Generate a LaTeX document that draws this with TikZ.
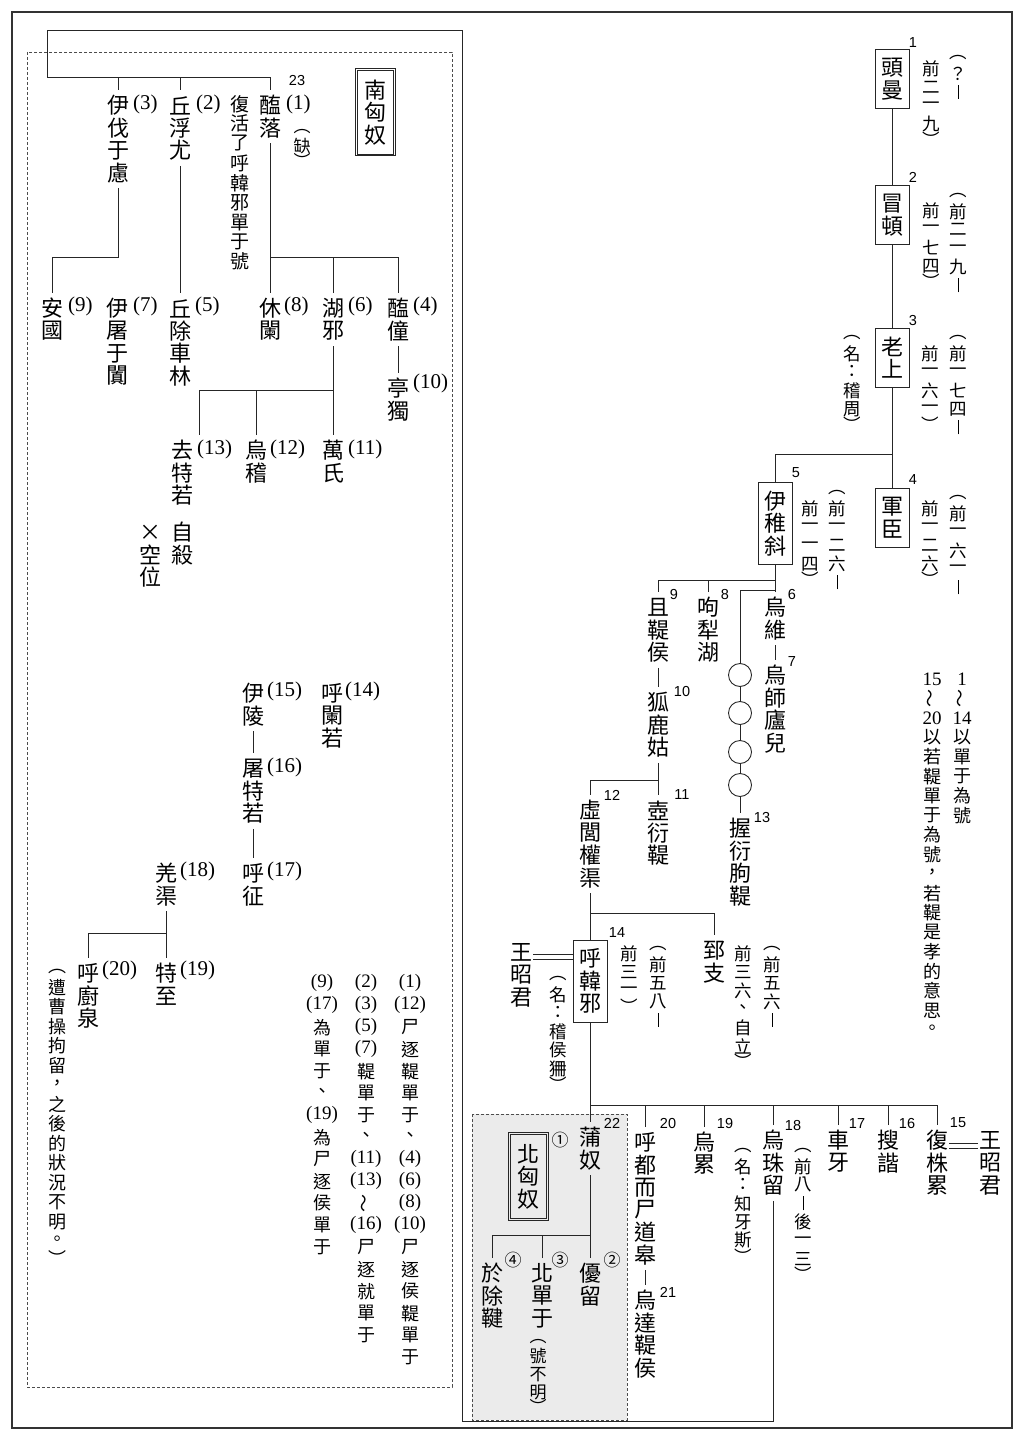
\documentclass[tikz,border=0pt]{standalone}
\usepackage{fontspec}
\usepackage{graphicx}
\usetikzlibrary{calc}
\setmainfont{Liberation Serif}
\setsansfont{Liberation Sans}
\newfontfamily\cjk{Noto Sans CJK TC}

% vertical text: one glyph (or group) per row
\newdimen\vtrow \newdimen\vtw
\vtrow=22pt \vtw=22pt
\def\vthf{.7}
\def\vtcell#1{\hbox to\vtw{\hss\vbox to\vtrow{\vss\hbox{#1}\vss}\hss}}
\def\vthalf#1{\hbox to\vtw{\hss\vbox to \vthf\vtrow{\vss\hbox{#1}\vss}\hss}}
\def\vop{︵}\def\vcl{︶}
\def\vtitem#1{\ifx\vop#1\vthalf{︵}\else\ifx\vcl#1\vthalf{︶}\else\vtcell{#1}\fi\fi}
\def\vtloop#1{\ifx\relax#1\else\vtitem{#1}\expandafter\vtloop\fi}
\newcommand\vt[1]{\vbox{\offinterlineskip\vtloop#1\relax}}
\newcommand\vdsh{\vrule width 0.7pt height 0.8em depth 0pt}
\newcommand\vtil{\rotatebox[origin=c]{90}{～}}
\newcommand\pn[1]{{\rmfamily\fontsize{19}{19}\selectfont(#1)}}
\newcommand\nm[1]{{\rmfamily\fontsize{19}{19}\selectfont#1}}

\newcommand\fname{\cjk\fontsize{22}{22}\selectfont\vtrow=22.5pt\relax\vtw=22pt\relax}
\newcommand\fdate{\cjk\fontsize{17.5}{17.5}\selectfont\vtrow=18.5pt\relax\vtw=17.5pt\relax}
\newcommand\fnote{\cjk\fontsize{18}{18}\selectfont\vtrow=19.5pt\relax\vtw=18pt\relax}
\newcommand\frules{\cjk\fontsize{18}{18}\selectfont\vtrow=22pt\relax\vtw=18pt\relax}
\newcommand\fmid{\cjk\fontsize{19}{19}\selectfont\vtrow=19.7pt\relax\vtw=19pt\relax}
\newcommand\fsmall{\cjk\fontsize{17}{17}\selectfont\vtrow=19pt\relax\vtw=17pt\relax\def\vthf{.55}}
\newcommand\fsmalltwo{\cjk\fontsize{17}{17}\selectfont\vtrow=18.5pt\relax\vtw=17pt\relax\def\vthf{.5}}

\begin{document}
\begin{tikzpicture}[x=1pt, y=-1pt]
    \tikzset{
        conn/.style={draw, line width=0.9pt, black!85},
        twin/.style={draw, double, double distance=4.5pt, line width=0.7pt, black!85},
        vtext/.style={inner xsep=1pt, inner ysep=4pt, anchor=north, yshift=5pt},
        vname/.style={vtext, font=\fname},
        vdate/.style={vtext, font=\fdate},
        vnote/.style={vtext, font=\fnote},
        vrules/.style={vtext, font=\frules},
        vmid/.style={vtext, font=\fmid},
        vsmall/.style={vtext, font=\fsmall},
        vsmalltwo/.style={vtext, font=\fsmalltwo},
        namebox/.style={draw, line width=1pt, black!85, text=black, font=\fname, inner xsep=6pt, inner ysep=7pt, anchor=north},
        dblbox/.style={draw, line width=1pt, black!85, text=black, font=\fname, inner xsep=9pt, inner ysep=10pt, anchor=north},
        dblin/.style={draw, line width=0.6pt, black!85},
        plab/.style={font=\rmfamily\fontsize{21}{21}\selectfont, inner sep=0pt, anchor=west},
        nlab/.style={font=\sffamily\fontsize{14.5}{14.5}\selectfont, inner sep=0pt},
        clab/.style={font=\cjk\fontsize{17}{17}\selectfont, inner sep=0pt},
        ring/.style={draw, circle, minimum size=23pt, inner sep=0pt, line width=0.9pt, black!85}
    }
    \useasboundingbox (0,0) rectangle (1024,1439);

    % Frames
    \draw[line width=1.4pt, black!80] (12,12) rectangle (1012,1428);
    \draw[line width=0.6pt, black!70, dash pattern=on 3pt off 2pt] (27,52) rectangle (452,1387);
    \filldraw[fill=black!8, draw=black!70, line width=0.6pt, dash pattern=on 3pt off 2pt] (472,1114) rectangle (627,1420);

    % Northern line
    \node[namebox] (touman) at (892,49) {\vt{頭曼}};
    \node[namebox] (maodun) at (892,185) {\vt{冒頓}};
    \node[namebox] (laoshang) at (892,328) {\vt{老上}};
    \node[namebox] (junchen) at (892,488) {\vt{軍臣}};
    \node[namebox] (yizhixie) at (775,482) {\vt{伊稚斜}};
    \node[vdate] (d1a) at (958,52) {\vt{\vop ？\vdsh}};
    \node[vdate] (d1b) at (931,60) {\vt{前二一九\vcl}};
    \node[vdate] (d2a) at (958,190) {\vt{\vop 前二一九\vdsh}};
    \node[vdate] (d2b) at (931,202) {\vt{前一七四\vcl}};
    \node[vdate] (d3n) at (852,332) {\vt{\vop 名：稽周\vcl}};
    \node[vdate] (d3a) at (958,332) {\vt{\vop 前一七四\vdsh}};
    \node[vdate] (d3b) at (930,345) {\vt{前一六一\vcl}};
    \node[vdate] (d4a) at (958,492) {\vt{\vop 前一六一\vdsh}};
    \node[vdate] (d4b) at (930,500) {\vt{前一二六\vcl}};
    \node[vdate] (d5a) at (837,487) {\vt{\vop 前一二六\vdsh}};
    \node[vdate] (d5b) at (810,500) {\vt{前一一四\vcl}};

    \node[vname] (qiedi) at (658,597) {\vt{且鞮侯}};
    \node[vname] (xuli) at (708,597) {\vt{呴犁湖}};
    \node[vname] (wuwei) at (775,597) {\vt{烏維}};
    \node[vname] (wushilu) at (775,665) {\vt{烏師廬兒}};
    \node[ring] (ring1) at (740,675) {};
    \node[ring] (ring2) at (740,713) {};
    \node[ring] (ring3) at (740,752) {};
    \node[ring] (ring4) at (740,785) {};
    \node[vname] (woyan) at (740,818) {\vt{握衍朐鞮}};
    \node[vname] (hulu) at (658,692) {\vt{狐鹿姑}};
    \node[vname] (huyan) at (658,800) {\vt{壺衍鞮}};
    \node[vname] (xulv) at (590,800) {\vt{虛閭權渠}};

    \node[namebox] (huhanxie) at (590,940) {\vt{呼韓邪}};
    \node[vname] (zhizhi) at (714,940) {\vt{郅支}};
    \node[vname] (wang1) at (521,942) {\vt{王昭君}};
    \node[vdate] (d14n) at (558,973) {\vt{\vop 名：稽侯狦\vcl}};
    \node[vdate] (d14a) at (658,943) {\vt{\vop 前五八\vdsh}};
    \node[vdate] (d14b) at (629,945) {\vt{前三一\vcl}};
    \node[vdate] (dzza) at (772,943) {\vt{\vop 前五六\vdsh}};
    \node[vdate] (dzzb) at (743,945) {\vt{前三六、自立\vcl}};

    \node[vname] (punu) at (590,1127) {\vt{蒲奴}};
    \node[vname] (hudu) at (645,1132) {\vt{呼都而尸道皋}};
    \node[vname] (wudati) at (645,1290) {\vt{烏達鞮侯}};
    \node[vname] (wulei) at (704,1132) {\vt{烏累}};
    \node[vdate] (d19n) at (743,1145) {\vt{\vop 名：知牙斯\vcl}};
    \node[vname] (wuzhuliu) at (773,1130) {\vt{烏珠留}};
    \node[vdate] (d18) at (803,1145) {\vt{\vop 前八\vdsh 後一三\vcl}};
    \node[vname] (cheya) at (838,1130) {\vt{車牙}};
    \node[vname] (souxie) at (888,1130) {\vt{搜諧}};
    \node[vname] (fuzhu) at (937,1130) {\vt{復株累}};
    \node[vname] (wang2) at (990,1130) {\vt{王昭君}};

    \node[dblbox] (beixiongnu) at (528,1132) {\vt{北匈奴}};
    \draw[dblin] ([shift={(2.5,2.5)}]beixiongnu.north west) rectangle ([shift={(-2.5,-2.5)}]beixiongnu.south east);
    \node[vname] (youliu) at (590,1263) {\vt{優留}};
    \node[vname] (beichanyu) at (542,1263) {\vt{北單于}};
    \node[vsmalltwo] (haobuming) at (538,1338) {\vt{\vop 號不明\vcl}};
    \node[vname] (yuchu) at (492,1263) {\vt{於除鞬}};

    \node[vnote] (note1) at (962,670) {\vt{{\nm{1}}\vtil{\nm{14}}以單于為號}};
    \node[vnote] (note2) at (932,670) {\vt{{\nm{15}}\vtil{\nm{20}}以若鞮單于為號，若鞮是孝的意思。}};

    % Northern numbers
    \node[nlab] (n1) at (913,43) {1};
    \node[nlab] (n2) at (913,177) {2};
    \node[nlab] (n3) at (913,321) {3};
    \node[nlab] (n4) at (913,480) {4};
    \node[nlab] (n5) at (796,473) {5};
    \node[nlab] (n6) at (792,595) {6};
    \node[nlab] (n7) at (792,662) {7};
    \node[nlab] (n8) at (725,595) {8};
    \node[nlab] (n9) at (674,595) {9};
    \node[nlab] (n10) at (682,692) {10};
    \node[nlab] (n11) at (682,795) {11};
    \node[nlab] (n12) at (612,795) {12};
    \node[nlab] (n13) at (762,817) {13};
    \node[nlab] (n14) at (617,933) {14};
    \node[nlab] (n15) at (958,1123) {15};
    \node[nlab] (n16) at (907,1123) {16};
    \node[nlab] (n17) at (857,1123) {17};
    \node[nlab] (n18) at (793,1125) {18};
    \node[nlab] (n19) at (725,1123) {19};
    \node[nlab] (n20) at (668,1123) {20};
    \node[nlab] (n21) at (668,1292) {21};
    \node[nlab] (n22) at (612,1123) {22};
    \node[nlab] (n23) at (297,81) {23};
    \node[clab] (c1) at (560,1140) {①};
    \node[clab] (c2) at (612,1260) {②};
    \node[clab] (c3) at (560,1260) {③};
    \node[clab] (c4) at (513,1260) {④};

    % Southern line
    \node[dblbox] (nanxiongnu) at (375,68) {\vt{南匈奴}};
    \draw[dblin] ([shift={(2.5,2.5)}]nanxiongnu.north west) rectangle ([shift={(-2.5,-2.5)}]nanxiongnu.south east);
    \node[vname] (yifa) at (118,95) {\vt{伊伐于慮}};
    \node[vname] (qiufu) at (180,95) {\vt{丘浮尤}};
    \node[vmid] (fuhuo) at (240,95) {\vt{復活了呼韓邪單于號}};
    \node[vname] (hailuo) at (270,95) {\vt{醢落}};
    \node[vsmall] (que) at (302,127) {\vt{\vop 缺\vcl}};
    \node[vname] (anguo) at (52,298) {\vt{安國}};
    \node[vname] (yitu) at (117,298) {\vt{伊屠于闐}};
    \node[vname] (qiuchu) at (180,298) {\vt{丘除車林}};
    \node[vname] (xiulan) at (270,298) {\vt{休闌}};
    \node[vname] (huxie) at (333,298) {\vt{湖邪}};
    \node[vname] (haitong) at (398,298) {\vt{醢僮}};
    \node[vname] (tingdu) at (398,378) {\vt{亭獨}};
    \node[vname] (qute) at (182,440) {\vt{去特若}};
    \node[vname] (wuji) at (256,440) {\vt{烏稽}};
    \node[vname] (wanshi) at (333,440) {\vt{萬氏}};
    \node[vname] (zisha) at (182,522) {\vt{自殺}};
    \node[vname] (kongwei) at (150,522) {\vt{×空位}};
    \node[vname] (yiling) at (253,683) {\vt{伊陵}};
    \node[vname] (tute) at (253,758) {\vt{屠特若}};
    \node[vname] (huzheng) at (253,863) {\vt{呼征}};
    \node[vname] (hulan) at (332,683) {\vt{呼闌若}};
    \node[vname] (qiangqu) at (166,863) {\vt{羌渠}};
    \node[vname] (huchu) at (88,963) {\vt{呼廚泉}};
    \node[vname] (tezhi) at (166,963) {\vt{特至}};
    \node[vnote] (caonote) at (57,965) {\vt{\vop 遭曹操拘留，之後的狀況不明。\vcl}};
    \node[vrules] (rule1) at (410,973) {\vt{{\pn{1}}{\pn{12}}尸逐鞮單于、{\pn{4}}{\pn{6}}{\pn{8}}{\pn{10}}尸逐侯鞮單于}};
    \node[vrules] (rule2) at (366,973) {\vt{{\pn{2}}{\pn{3}}{\pn{5}}{\pn{7}}鞮單于、{\pn{11}}{\pn{13}}\vtil{\pn{16}}尸逐就單于}};
    \node[vrules] (rule3) at (322,973) {\vt{{\pn{9}}{\pn{17}}為單于、{\pn{19}}為尸逐侯單于}};

    % Southern numbers
    \node[plab] (p3) at (133,104) {(3)};
    \node[plab] (p2) at (196,104) {(2)};
    \node[plab] (p1) at (286,104) {(1)};
    \node[plab] (p9) at (68,306) {(9)};
    \node[plab] (p7) at (133,306) {(7)};
    \node[plab] (p5) at (195,306) {(5)};
    \node[plab] (p8) at (284,306) {(8)};
    \node[plab] (p6) at (348,306) {(6)};
    \node[plab] (p4) at (413,306) {(4)};
    \node[plab] (p10) at (413,383) {(10)};
    \node[plab] (p13) at (197,449) {(13)};
    \node[plab] (p12) at (270,449) {(12)};
    \node[plab] (p11) at (348,449) {(11)};
    \node[plab] (p15) at (267,691) {(15)};
    \node[plab] (p14) at (345,691) {(14)};
    \node[plab] (p16) at (267,767) {(16)};
    \node[plab] (p17) at (267,871) {(17)};
    \node[plab] (p18) at (180,871) {(18)};
    \node[plab] (p20) at (102,970) {(20)};
    \node[plab] (p19) at (180,970) {(19)};

    % Northern connections
    \draw[conn] (touman) -- (maodun);
    \draw[conn] (maodun) -- (laoshang);
    \draw[conn] (laoshang) -- (junchen);
    \coordinate (j3) at (892,454);
    \draw[conn] (j3) -| (yizhixie.north);
    \draw[conn] (yizhixie) -- (wuwei);
    \coordinate (j5) at (775,580);
    \coordinate (j5b) at (775,590);
    \draw[conn] (j5) -| (qiedi.north);
    \draw[conn] (xuli.north) -- (xuli.north |- j5);
    \draw[conn] (j5b) -| (ring1.north);
    \draw[conn] (wuwei) -- (wushilu);
    \draw[conn] (ring1) -- (ring2);
    \draw[conn] (ring2) -- (ring3);
    \draw[conn] (ring3) -- (ring4);
    \draw[conn] (ring4) -- (woyan);
    \draw[conn] (qiedi) -- (hulu);
    \draw[conn] (hulu) -- (huyan);
    \coordinate (j10) at (658,780);
    \draw[conn] (j10) -| (xulv.north);
    \draw[conn] (xulv) -- (huhanxie);
    \coordinate (j12) at (590,913);
    \draw[conn] (j12) -| (zhizhi.north);
    \coordinate (w1) at ([yshift=-20pt]wang1.north east);
    \draw[twin] (w1) -- (w1 -| huhanxie.west);
    \draw[conn] (huhanxie) -- (punu);
    \coordinate (j14) at (590,1105);
    \draw[conn] (j14) -| (fuzhu.north);
    \foreach \s in {hudu,wulei,wuzhuliu,cheya,souxie}
        \draw[conn] (\s.north) -- (\s.north |- j14);
    \draw[conn] (hudu) -- (wudati);
    \coordinate (w2) at ([yshift=-21pt]fuzhu.north east);
    \draw[twin] (w2) -- (w2 -| wang2.west);
    \draw[conn] (punu) -- (youliu);
    \coordinate (j22) at (590,1235);
    \draw[conn] (j22) -| (yuchu.north);
    \draw[conn] (beichanyu.north) -- (beichanyu.north |- j22);

    % Link to the south
    \coordinate (k2) at (462,1421);
    \coordinate (k4) at (47,30);
    \coordinate (j23) at (270,77);
    \draw[conn] (wuzhuliu.south) |- (k2) |- (k4) |- (j23) -- (hailuo.north);
    \draw[conn] (yifa.north) -- (yifa.north |- j23);
    \draw[conn] (qiufu.north) -- (qiufu.north |- j23);

    % Southern connections
    \coordinate (j3s) at (52,257);
    \draw[conn] (yifa.south) |- (j3s) -- (anguo.north);
    \draw[conn] (qiufu) -- (qiuchu);
    \draw[conn] (hailuo) -- (xiulan);
    \coordinate (j1s) at (270,257);
    \draw[conn] (j1s) -| (haitong.north);
    \draw[conn] (huxie.north) -- (huxie.north |- j1s);
    \draw[conn] (haitong) -- (tingdu);
    \draw[conn] (huxie) -- (wanshi);
    \coordinate (j6s) at (333,390);
    \coordinate (j13s) at (199,390);
    \draw[conn] (j6s) -- (j13s) -- (j13s |- qute.north);
    \draw[conn] (wuji.north) -- (wuji.north |- j6s);
    \draw[conn] (yiling) -- (tute);
    \draw[conn] (tute) -- (huzheng);
    \draw[conn] (qiangqu) -- (tezhi);
    \coordinate (j18s) at (166,933);
    \draw[conn] (j18s) -| (huchu.north);
\end{tikzpicture}
\end{document}
